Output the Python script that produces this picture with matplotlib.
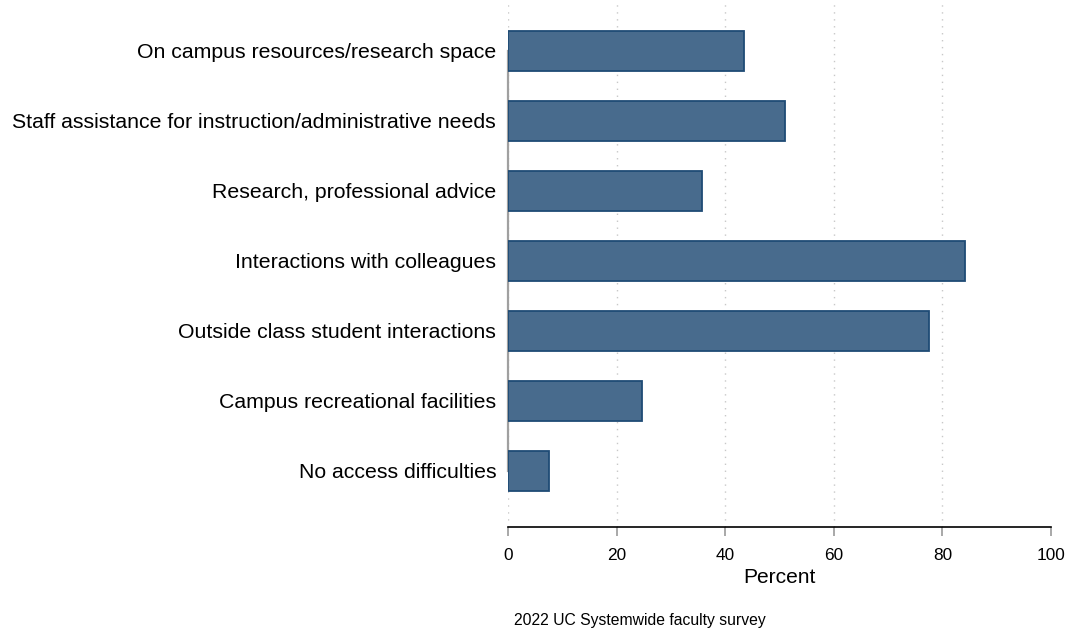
import matplotlib
matplotlib.use("Agg")
import matplotlib.pyplot as plt

# reasons for coming to campus, share of faculty (%)
categories = [
    "On campus resources/research space",
    "Staff assistance for instruction/administrative needs",
    "Research, professional advice",
    "Interactions with colleagues",
    "Outside class student interactions",
    "Campus recreational facilities",
    "No access difficulties",
]
percent = [43.5, 51.0, 35.8, 84.2, 77.6, 24.6, 7.6]
x_ticks = [0, 20, 40, 60, 80, 100]
grid_at = [0, 20, 40, 60, 80]

plt.rcParams['font.family'] = ['Liberation Sans', 'DejaVu Sans']

fig = plt.figure(figsize=(10.69, 6.31), dpi=100, facecolor='w')
ax = fig.add_axes([508 / 1069, 1 - 527 / 631, 543 / 1069, 524 / 631])

pos = list(range(len(categories)))
ax.barh(pos, percent, height=0.57, color='#486b8d', edgecolor='#1f4b75',
        linewidth=1.3, zorder=3)

for g in grid_at:
    ax.axvline(g, color='#c8c8c8', linestyle=(0, (1, 4)), linewidth=1.0, zorder=1)

ax.set_xlim(0, 100)
ax.set_ylim(7 + 56 / 70 - 1, 1 - 48 / 70 - 1)

ax.set_yticks(pos)
ax.set_yticklabels(categories, fontsize=15.3)
ax.tick_params(axis='y', length=0, pad=8.5)

ax.set_xticks(x_ticks)
ax.set_xticklabels([str(t) for t in x_ticks], fontsize=12.4)
ax.tick_params(axis='x', length=6.5, width=1.2, color='#9a9a9a', pad=8.5)

ax.set_xlabel("Percent", fontsize=15.1, labelpad=4)

for side in ['top', 'right']:
    ax.spines[side].set_visible(False)
ax.spines['left'].set_bounds(0, len(categories) - 1)
ax.spines['left'].set_color('#a0a0a0')
ax.spines['left'].set_linewidth(1.6)
ax.spines['bottom'].set_color('black')
ax.spines['bottom'].set_linewidth(1.2)

fig.text(639.5 / 1069, 1 - 620 / 631, "2022 UC Systemwide faculty survey",
         ha='center', va='center', fontsize=11.3)

fig.savefig("out.png", dpi=100)
